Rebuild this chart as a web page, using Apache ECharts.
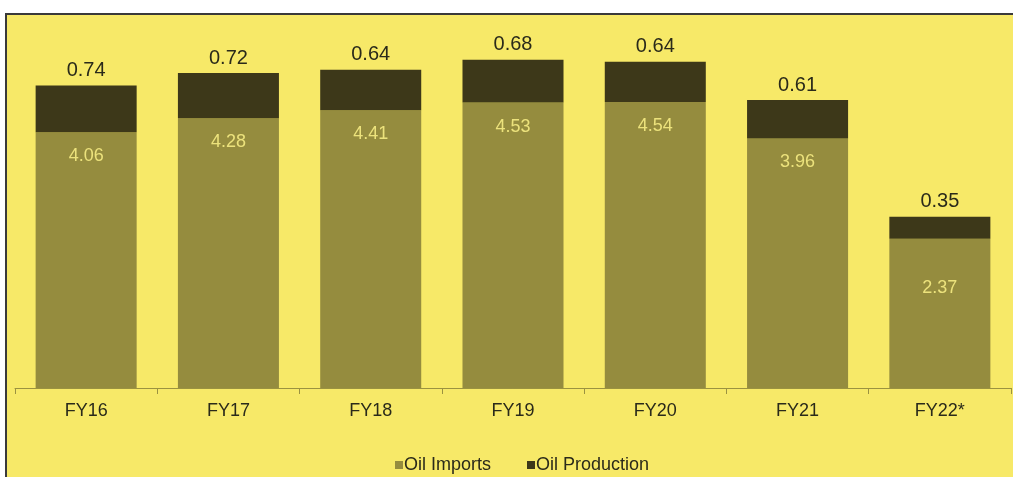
<!DOCTYPE html>
<html>
<head>
<meta charset="utf-8">
<script src="https://cdn.jsdelivr.net/npm/echarts@6/dist/echarts.min.js"></script>
<style>
  html, body { margin: 0; padding: 0; background: #ffffff; }
  #box {
    position: absolute; left: 5px; top: 13px; width: 1008px; height: 464px;
    background: #f7e968; border-left: 2px solid #3a3a3a; border-top: 2px solid #3a3a3a;
    box-sizing: border-box;
  }
  #chart { position: absolute; left: 0; top: 0; width: 1013px; height: 477px; }
</style>
</head>
<body>
<div id="box"></div>
<div id="chart"></div>
<script>
const categories = ['FY16', 'FY17', 'FY18', 'FY19', 'FY20', 'FY21', 'FY22*'];
const oilImports = [4.06, 4.28, 4.41, 4.53, 4.54, 3.96, 2.37];
const oilProduction = [0.74, 0.72, 0.64, 0.68, 0.64, 0.61, 0.35];

const chart = echarts.init(document.getElementById('chart'));

// the last bar has its label pushed further down
const importData = oilImports.map((v, i) => (
  i === oilImports.length - 1 ? { value: v, label: { distance: 40 } } : v
));

chart.setOption({
  backgroundColor: 'transparent',
  animation: false,
  textStyle: { fontFamily: 'Liberation Sans, Arial, sans-serif' },
  grid: { left: 15, right: 2, top: 10, bottom: 89 },
  legend: {
    left: 390,
    top: 451,
    icon: 'rect',
    itemWidth: 8,
    itemHeight: 8,
    itemGap: 36,
    textStyle: { color: '#2a2a1a', fontSize: 18, padding: [0, 0, 0, -4] },
    data: ['Oil Imports', 'Oil Production']
  },
  xAxis: {
    type: 'category',
    data: categories,
    axisLine: { lineStyle: { color: '#9b9240', width: 1 } },
    axisTick: { show: true, length: 6, lineStyle: { color: '#9b9240' } },
    axisLabel: { color: '#2a2a1a', fontSize: 18, margin: 14 }
  },
  yAxis: {
    type: 'value',
    min: 0,
    max: 6,
    show: false,
    splitLine: { show: false }
  },
  series: [
    {
      name: 'Oil Imports',
      type: 'bar',
      stack: 'total',
      barWidth: '71%',
      data: importData,
      itemStyle: { color: '#958c3e' },
      label: {
        show: true,
        position: 'insideTop',
        distance: 15,
        color: '#ece27c',
        fontSize: 18,
        formatter: p => p.value.toFixed(2)
      }
    },
    {
      name: 'Oil Production',
      type: 'bar',
      stack: 'total',
      data: oilProduction,
      itemStyle: { color: '#3d3819' },
      label: {
        show: true,
        position: 'top',
        distance: 5,
        color: '#2a2a1a',
        fontSize: 20,
        formatter: p => p.value.toFixed(2)
      }
    }
  ]
});
</script>
</body>
</html>
